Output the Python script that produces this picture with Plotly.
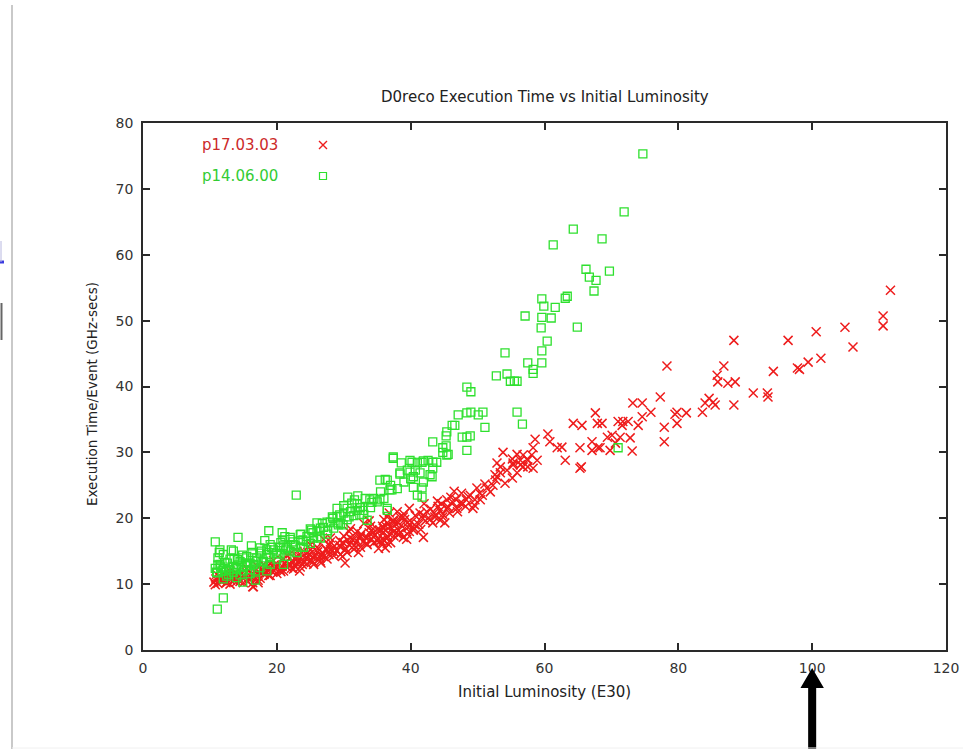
import plotly.graph_objects as go

# ---- data: D0reco execution time per event vs initial luminosity ----
series_names = ["p17.03.03", "p14.06.00"]

# p17.03.03 (red crosses)
p17_lum = [
    111.7, 110.6, 110.6, 104.9, 106.1, 100.6, 101.3, 96.4, 99.4, 97.8, 98.1, 94.2,
    91.2, 93.3, 93.4, 88.3, 86.8, 85.8, 85.9, 87.4, 88.5, 88.3, 84.6, 84.0, 85.2,
    85.5, 83.6, 78.3, 77.3, 75.9, 74.6, 73.2, 74.6, 74.0, 79.8, 79.5, 81.2, 79.8,
    77.9, 77.9, 71.0, 71.7, 72.5, 71.6, 68.6, 69.4, 70.1, 71.3, 72.8, 70.6, 69.8,
    68.3, 73.1, 67.6, 64.3, 65.6, 67.9, 65.3, 67.1, 67.1, 68.0, 65.5, 58.6, 60.5,
    60.8, 61.9, 63.1, 58.3, 53.8, 55.2, 55.9, 56.4, 57.5, 58.1, 58.9, 53.4, 54.4,
    55.3, 56.8, 52.9, 62.6, 65.3, 56.8, 57.4, 52.9, 55.3, 56.4, 57.5, 58.3, 52.6,
    53.4, 55.9, 55.2, 54.1, 52.3, 51.4, 49.9, 46.5, 50.7, 48.9, 49.6, 48.3, 47.4,
    50.4, 49.3, 46.9, 45.4, 45.6, 44.4, 41.9, 43.6, 44.8, 44.4, 43.3, 45.1, 38.9,
    39.5, 40.4, 38.1, 36.9, 35.9, 37.4, 38.1, 38.9, 36.5, 35.7, 41.9, 36.2,
    10.8, 11.5, 12.6, 13.5, 14.9, 16.4, 17.2, 18.5, 19.4, 20.5, 21.5, 22.4, 23.5,
    24.5, 25.4, 26.5, 27.5, 28.4, 29.4, 30.5, 31.4, 32.4, 33.5, 34.4, 35.4, 36.5,
    37.4, 38.4, 36.5, 35.9, 30.2, 16.4,
    10.6, 10.9, 11.2, 11.5, 11.8, 12.1, 12.4, 12.8, 13.1, 13.4, 13.8, 14.2, 14.5,
    14.8, 15.2, 15.5, 15.9, 16.3, 16.7, 17.0, 17.4, 17.8, 18.1, 18.6, 19.0, 19.3,
    19.7, 20.1, 20.4, 20.8, 21.2, 21.6, 22.0, 22.3, 22.7, 23.1, 23.6, 24.0, 24.4,
    24.8, 25.2, 25.7, 26.1, 26.5, 26.9, 27.3, 27.8, 28.2, 28.6, 29.0, 29.5, 29.9,
    30.3, 30.8, 31.2, 31.6, 32.0, 32.5, 32.9, 33.3, 33.8, 34.2, 34.6, 35.0, 35.5,
    35.9, 36.3, 36.8, 37.2, 37.7, 38.2, 38.6, 39.1, 39.6, 40.1, 40.7, 41.2, 41.8,
    42.4, 42.9, 43.5, 44.1, 44.8, 45.5, 46.2, 47.0, 47.8, 48.6, 49.5, 50.3, 51.1,
    51.9, 52.7,
    12.0, 13.0, 14.0, 15.0, 16.0, 17.5, 19.0, 20.0, 21.0, 22.5, 23.5, 24.5, 25.5,
    26.5, 27.5, 28.5, 29.5, 30.5, 31.5, 32.5, 33.5, 34.5, 35.5, 36.5, 37.5, 38.5,
    39.5, 40.5, 41.5, 15.5, 18.0, 21.0, 24.0, 26.0, 28.0, 30.0, 32.0, 34.0, 36.0,
    38.0, 39.8, 42.0, 44.0, 46.0, 33.0, 31.0, 27.0, 25.0, 23.0, 21.5, 19.5, 17.0,
    16.5, 17.2, 13.0, 11.0,
    14.0, 15.0, 16.0, 17.0, 18.0, 18.8, 19.6, 20.6, 21.4, 22.2, 23.0, 23.8, 24.6,
    25.4, 26.2, 27.0, 27.8, 28.6, 29.4, 30.2, 31.0, 31.8, 32.6, 33.4, 34.2, 35.0,
    35.8, 36.6, 37.4, 38.2, 39.0, 39.8, 40.6, 41.4, 42.2, 43.0, 43.8, 44.6, 45.8,
    46.8, 47.6, 48.2, 12.2, 13.6, 19.0, 22.0, 25.0, 28.0, 30.8, 33.8, 36.8, 15.8,
    18.4, 20.8, 23.4, 26.6, 29.8, 32.2, 35.2, 37.0, 39.4,
]
p17_time = [
    54.6, 50.7, 49.2, 49.0, 46.0, 48.3, 44.3, 47.0, 43.7, 42.8, 42.6, 42.3,
    39.0, 39.0, 38.4, 47.0, 43.1, 41.7, 40.7, 40.5, 40.7, 37.2, 38.2, 37.5, 37.6,
    37.2, 36.1, 43.1, 38.4, 36.1, 37.5, 37.5, 35.4, 34.1, 36.1, 35.8, 36.0, 34.4,
    33.8, 31.6, 34.7, 34.7, 34.7, 34.1, 34.4, 32.3, 32.6, 32.3, 32.2, 31.4, 30.3,
    30.7, 30.2, 36.0, 34.4, 34.1, 34.4, 30.7, 31.6, 30.3, 30.7, 27.8, 32.0, 32.8,
    31.6, 30.7, 28.8, 30.7, 30.0, 29.0, 29.7, 28.8, 28.8, 29.6, 28.8, 27.8, 27.3,
    28.4, 27.8, 26.3, 30.8, 27.6, 29.6, 29.0, 28.4, 28.1, 28.1, 27.8, 27.6, 26.6,
    26.9, 26.9, 26.1, 25.3, 25.0, 24.6, 24.6, 24.1, 23.5, 23.5, 22.8, 22.8, 22.3,
    22.8, 21.5, 21.5, 22.8, 21.7, 21.2, 20.5, 20.2, 20.2, 19.7, 19.3, 19.3, 20.2,
    19.3, 18.2, 19.3, 18.7, 18.5, 17.9, 17.5, 17.1, 17.0, 16.2, 17.1, 15.5,
    9.9, 10.6, 10.3, 10.6, 10.9, 10.2, 10.6, 11.7, 11.8, 12.1, 12.6, 13.2, 13.4,
    14.0, 14.1, 14.4, 15.2, 15.6, 15.9, 16.7, 16.7, 17.1, 17.1, 17.8, 18.2, 19.3,
    19.7, 20.2, 20.2, 16.7, 13.2, 9.6,
    10.3, 10.8, 10.1, 11.0, 10.5, 10.9, 10.2, 11.1, 10.6, 11.2, 10.8, 11.4, 10.4,
    11.6, 11.0, 11.8, 10.9, 11.5, 12.0, 11.2, 11.8, 12.3, 11.5, 12.1, 12.6, 11.9,
    12.4, 12.9, 12.2, 12.7, 13.2, 12.5, 13.0, 13.6, 12.8, 13.4, 14.0, 13.3, 13.8,
    14.5, 13.6, 14.2, 14.9, 14.0, 14.6, 15.3, 14.5, 15.0, 15.8, 15.1, 15.6, 16.3,
    15.4, 16.0, 16.8, 15.9, 16.5, 17.3, 16.4, 17.0, 17.8, 16.8, 17.4, 18.3, 17.3,
    17.9, 18.8, 17.6, 18.4, 19.2, 18.2, 18.9, 19.8, 18.6, 19.4, 20.4, 19.1, 20.0,
    21.0, 19.8, 20.8, 21.8, 20.6, 21.5, 22.5, 21.0, 22.2, 23.3, 22.0, 23.8, 25.2,
    24.0, 25.8,
    11.4, 10.0, 10.9, 10.2, 11.2, 10.9, 11.3, 11.6, 12.0, 12.3, 12.6, 13.1, 13.0,
    13.5, 13.8, 14.3, 14.5, 14.8, 15.3, 15.6, 16.0, 16.3, 16.6, 16.2, 17.3, 17.8,
    17.6, 18.5, 18.3, 12.5, 13.0, 13.8, 15.0, 15.6, 16.4, 17.3, 18.0, 18.8, 19.8,
    21.0, 21.5, 22.2, 22.6, 23.2, 19.2, 18.4, 16.8, 16.0, 15.0, 14.4, 13.6, 12.8,
    9.6, 10.2, 12.0, 11.5,
    10.4, 11.3, 10.7, 11.6, 11.9, 11.3, 12.9, 11.9, 13.4, 12.4, 14.2, 13.0, 14.8,
    13.4, 15.4, 14.2, 15.9, 14.8, 16.6, 15.2, 17.0, 15.6, 17.6, 16.2, 18.2, 16.6,
    18.8, 17.2, 19.5, 17.6, 20.6, 18.0, 19.0, 20.8, 19.6, 21.4, 20.4, 22.2, 20.8,
    22.8, 23.8, 21.8, 10.7, 11.6, 13.1, 14.6, 15.2, 17.0, 18.0, 19.6, 20.8, 12.0,
    12.6, 13.6, 12.0, 13.2, 14.2, 14.8, 15.4, 16.3, 16.8,
]

# p14.06.00 (green squares)
p14_lum = [
    74.7, 71.9, 68.6, 64.3, 61.3, 69.7, 66.2, 66.7, 67.7, 67.4, 59.6, 59.9, 61.6,
    63.1, 63.4, 57.1, 59.6, 61.0, 59.5, 64.9, 60.4, 59.6, 59.6, 57.5, 58.3, 58.3,
    54.1, 52.8, 54.4, 54.9, 55.5, 55.9, 48.4, 49.0, 55.9, 56.7, 47.1, 48.4, 49.0,
    50.1, 50.8, 51.1, 46.2, 45.4, 45.3, 47.7, 48.4, 48.9, 48.4, 44.8, 45.4, 43.3,
    39.9, 41.0, 41.9, 42.6, 43.3, 39.5, 40.4, 43.2, 71.0,
    46.6, 45.3, 44.8, 45.6, 37.4, 38.6, 40.2, 41.7, 43.9, 43.3, 40.7, 38.4, 41.4,
    42.9, 41.9, 40.4, 41.7, 36.5, 37.2, 41.7, 35.4, 36.5,
    37.4, 39.9, 38.4, 36.2, 36.9, 35.4, 36.5, 41.0, 22.9, 30.6, 32.1, 31.2, 29.0,
    30.5, 32.0, 33.9, 35.0, 32.9, 32.4, 33.5, 29.4, 28.3, 27.5, 29.0, 29.9, 26.0,
    26.5, 25.0, 25.4, 23.5, 23.9, 22.0, 22.4, 20.9, 20.5, 21.5, 23.5, 20.0, 18.5,
    19.0, 17.5, 16.4, 17.8, 16.0, 14.9, 14.1, 13.5, 12.6, 12.0, 11.2, 10.8, 11.1,
    14.8, 18.8, 14.2, 10.8, 11.5, 11.2, 14.9, 12.0, 11.1,
    11.5, 12.0, 12.5, 13.0, 13.5, 14.0, 14.5, 15.0, 15.5, 16.0, 16.5, 17.0, 17.5,
    18.0, 18.5, 19.0, 19.5, 20.0, 20.5, 21.0, 21.5, 22.0, 22.5, 23.0, 23.5, 24.0,
    24.5, 25.0, 25.5, 26.0, 26.5, 27.0, 27.5, 28.0, 28.5, 29.0, 29.5, 30.0, 30.5,
    31.0, 31.5, 32.0, 32.5, 33.0, 34.0, 34.5, 35.5, 36.0, 37.0, 38.0, 39.0, 40.0,
    12.5, 14.0, 16.0, 18.5, 21.0, 13.5, 11.8, 12.8, 15.5, 17.5, 19.0, 21.2, 16.8,
    11.0, 11.6, 12.2, 12.9, 13.6, 14.2, 14.9, 15.6, 16.3, 17.0, 17.7, 18.4, 19.2,
    19.9, 20.6, 21.3, 22.0, 22.8, 23.6, 24.4, 25.2, 26.0, 26.8, 27.6, 28.4, 29.2,
    30.0, 30.8, 31.6, 32.4, 33.2, 34.2, 11.4, 13.2, 16.2, 18.2, 20.8, 12.0, 14.5,
    16.8,
]
p14_time = [
    75.3, 66.5, 62.4, 63.9, 61.5, 57.5, 57.8, 56.6, 56.1, 54.5, 53.3, 52.2, 52.0,
    53.4, 53.7, 50.7, 50.5, 50.4, 48.9, 49.0, 46.9, 45.4, 43.6, 43.6, 42.6, 42.0,
    45.1, 41.6, 41.9, 40.8, 40.8, 40.8, 39.9, 39.2, 36.1, 34.3, 35.7, 36.0, 36.1,
    35.7, 36.1, 33.8, 34.1, 33.1, 32.5, 32.3, 32.3, 32.5, 30.3, 30.7, 29.6, 31.6,
    28.8, 28.4, 28.7, 28.8, 28.5, 27.3, 26.3, 26.3, 30.7,
    34.1, 31.0, 30.0, 29.7, 29.1, 28.4, 28.5, 28.5, 28.5, 27.6, 27.3, 26.9, 26.9,
    26.6, 25.5, 24.7, 24.6, 25.8, 24.3, 23.2, 22.8, 21.5,
    29.3, 27.0, 26.7, 25.9, 24.3, 25.8, 21.2, 23.5, 23.5, 23.2, 23.4, 22.3, 21.5,
    21.5, 21.2, 22.8, 22.5, 21.2, 20.5, 19.7, 20.5, 20.2, 19.4, 19.3, 19.0, 19.3,
    18.5, 18.4, 17.8, 17.5, 16.7, 17.1, 16.4, 16.7, 15.6, 15.6, 15.6, 14.7, 15.2,
    14.1, 14.7, 14.0, 13.4, 13.2, 14.0, 13.7, 12.6, 13.2, 12.4, 12.9, 12.4, 11.7,
    12.6, 18.1, 17.1, 16.4, 15.2, 14.0, 10.3, 7.9, 6.2,
    13.0, 14.5, 12.0, 13.8, 11.8, 12.4, 13.4, 12.0, 12.8, 11.6, 13.0, 14.0, 12.5,
    13.5, 14.5, 13.0, 15.2, 13.8, 14.6, 15.8, 14.2, 15.0, 16.0, 14.8, 16.6, 15.6,
    17.2, 16.2, 17.0, 18.0, 17.0, 18.6, 17.6, 19.4, 18.5, 20.2, 19.2, 20.8, 19.8,
    21.0, 20.4, 22.2, 21.6, 20.6, 21.6, 23.0, 24.0, 23.0, 25.0, 24.5, 25.5, 26.0,
    11.2, 11.0, 12.2, 12.0, 13.0, 15.0, 12.0, 11.5, 14.2, 15.5, 16.0, 17.2, 10.6,
    11.8, 12.6, 13.3, 12.2, 13.9, 12.9, 14.4, 13.2, 14.8, 13.5, 15.0, 14.0, 15.6,
    14.6, 16.3, 15.2, 16.8, 15.8, 17.6, 16.5, 18.2, 17.2, 19.2, 18.1, 20.0, 19.0,
    21.9, 20.2, 22.8, 21.6, 23.0, 22.4, 14.8, 15.2, 15.8, 16.6, 17.8, 10.8, 11.4,
    12.0,
]

x_ticks = [0, 20, 40, 60, 80, 100, 120]
y_ticks = [0, 10, 20, 30, 40, 50, 60, 70, 80]

# ---- styling ----
RED = "#ee1c1c"
GREEN = "#2ee02e"
AXIS = "#2a2a2a"
FONT = "DejaVu Sans, Verdana, sans-serif"
FS = 15
W, H = 963, 749
L, R, T, B = 143, 17, 123, 99
plot_w, plot_h = W - L - R, H - T - B


def px_to_paper_x(px):
    return (px - L) / plot_w


def px_to_paper_y(py):
    return (H - B - py) / plot_h


fig = go.Figure()

fig.add_trace(go.Scatter(
    x=p17_lum, y=p17_time, mode="markers", name=series_names[0],
    marker=dict(symbol="x-thin", size=9, line=dict(color=RED, width=1.5)),
    showlegend=False,
))
fig.add_trace(go.Scatter(
    x=p14_lum, y=p14_time, mode="markers", name=series_names[1],
    marker=dict(symbol="square-open", size=8, color=GREEN, line=dict(width=1.3)),
    showlegend=False,
))

# key samples drawn on an overlay axis spanning the plot area (0..1)
key_x = [px_to_paper_x(323)] * 2
key_y = [px_to_paper_y(145), px_to_paper_y(176)]
fig.add_trace(go.Scatter(
    x=key_x[:1], y=key_y[:1], xaxis="x2", yaxis="y2", mode="markers",
    marker=dict(symbol="x-thin", size=8, line=dict(color=RED, width=1.4)),
    showlegend=False, hoverinfo="skip",
))
fig.add_trace(go.Scatter(
    x=key_x[1:], y=key_y[1:], xaxis="x2", yaxis="y2", mode="markers",
    marker=dict(symbol="square-open", size=7, color=GREEN, line=dict(width=1.2)),
    showlegend=False, hoverinfo="skip",
))

axis_common = dict(
    showline=True, linecolor=AXIS, linewidth=1.5, mirror="ticks",
    ticks="inside", ticklen=7, tickwidth=1.5, tickcolor=AXIS,
    showgrid=False, zeroline=False, automargin=False,
    tickfont=dict(family=FONT, size=FS - 1, color="#333333"),
)

fig.update_layout(
    width=W, height=H, autosize=False,
    margin=dict(l=L, r=R, t=T, b=B, pad=0),
    paper_bgcolor="white", plot_bgcolor="white",
    xaxis=dict(range=[0, 120], tickvals=x_ticks, ticktext=[str(v) for v in x_ticks],
               ticklabelstandoff=4, **axis_common),
    yaxis=dict(range=[0, 80], tickvals=y_ticks, ticktext=[str(v) for v in y_ticks],
               ticklabelstandoff=5, **axis_common),
    xaxis2=dict(range=[0, 1], overlaying="x", visible=False, fixedrange=True),
    yaxis2=dict(range=[0, 1], overlaying="y", visible=False, fixedrange=True),
)

annotations = [
    dict(text="D0reco Execution Time vs Initial Luminosity", xref="paper", yref="paper",
         x=0.5, y=px_to_paper_y(97), xanchor="center", yanchor="middle", showarrow=False,
         font=dict(family=FONT, size=FS, color="#222222")),
    dict(text="Initial Luminosity (E30)", xref="paper", yref="paper",
         x=0.5, y=px_to_paper_y(692), xanchor="center", yanchor="middle", showarrow=False,
         font=dict(family=FONT, size=FS, color="#222222")),
    dict(text="Execution Time/Event (GHz-secs)", xref="paper", yref="paper",
         x=px_to_paper_x(92), y=px_to_paper_y(394), xanchor="center", yanchor="middle",
         textangle=-90, showarrow=False,
         font=dict(family=FONT, size=13.5, color="#222222")),
    dict(text=series_names[0], xref="paper", yref="paper",
         x=px_to_paper_x(280), y=key_y[0], xanchor="right", yanchor="middle",
         showarrow=False, font=dict(family=FONT, size=FS, color="#cc2a2a")),
    dict(text=series_names[1], xref="paper", yref="paper",
         x=px_to_paper_x(280), y=key_y[1], xanchor="right", yanchor="middle",
         showarrow=False, font=dict(family=FONT, size=FS, color="#33cc33")),
]
fig.update_layout(annotations=annotations)

# pointer arrow under the x axis, aimed at luminosity 100
arrow_at = 100
ax_c = arrow_at / 120
shaft = 0.6 / 120
head = 1.75 / 120
y_tip, y_head, y_end = px_to_paper_y(668), px_to_paper_y(688), px_to_paper_y(H + 2)
arrow_path = (
    f"M {ax_c - shaft},{y_end} L {ax_c - shaft},{y_head} L {ax_c - head},{y_head} "
    f"L {ax_c},{y_tip} L {ax_c + head},{y_head} L {ax_c + shaft},{y_head} "
    f"L {ax_c + shaft},{y_end} Z"
)

shapes = [
    dict(type="path", path=arrow_path, xref="paper", yref="paper",
         fillcolor="black", line=dict(color="black", width=0)),
    # page edge rule on the left and bottom
    dict(type="line", xref="paper", yref="paper",
         x0=px_to_paper_x(12), x1=px_to_paper_x(12),
         y0=px_to_paper_y(5), y1=px_to_paper_y(H + 2),
         line=dict(color="#c9c9c9", width=2)),
    dict(type="line", xref="paper", yref="paper",
         x0=px_to_paper_x(12), x1=px_to_paper_x(W),
         y0=px_to_paper_y(748), y1=px_to_paper_y(748),
         line=dict(color="#f0f0f0", width=1)),
    # small page widgets at the far left
    dict(type="line", xref="paper", yref="paper",
         x0=px_to_paper_x(0), x1=px_to_paper_x(4),
         y0=px_to_paper_y(262), y1=px_to_paper_y(262),
         line=dict(color="#3a3adf", width=3)),
    dict(type="line", xref="paper", yref="paper",
         x0=px_to_paper_x(1), x1=px_to_paper_x(1),
         y0=px_to_paper_y(241), y1=px_to_paper_y(262),
         line=dict(color="#b8b8e0", width=1)),
    dict(type="line", xref="paper", yref="paper",
         x0=px_to_paper_x(1.5), x1=px_to_paper_x(1.5),
         y0=px_to_paper_y(303), y1=px_to_paper_y(340),
         line=dict(color="#666666", width=2)),
]
fig.update_layout(shapes=shapes)

fig.write_html("out.html")
